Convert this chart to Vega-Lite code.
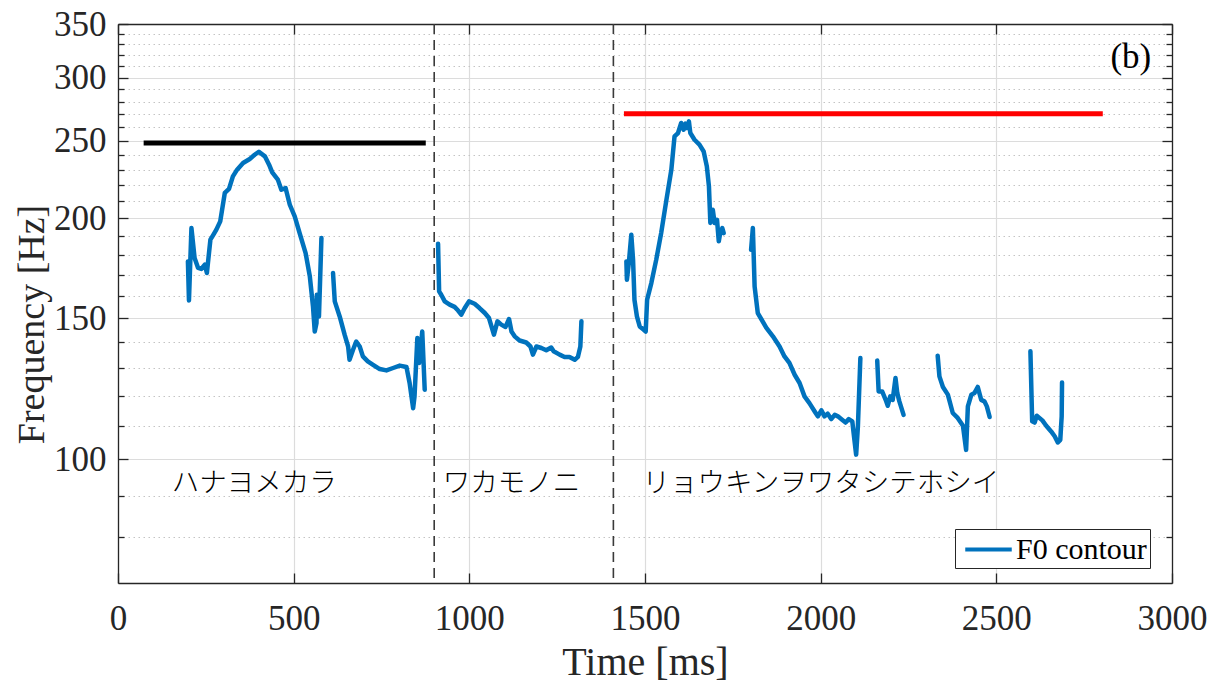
{
  "$schema": "https://vega.github.io/schema/vega-lite/v6.json",
  "width": 1054,
  "height": 559,
  "autosize": {"type": "none"},
  "padding": {"left": 118, "top": 24, "right": 49, "bottom": 103},
  "background": "white",
  "config": {
    "view": {"stroke": null},
    "axis": {
      "labelFont": "Liberation Serif",
      "titleFont": "Liberation Serif",
      "labelColor": "#262626",
      "titleColor": "#262626",
      "domainColor": "#262626",
      "tickColor": "#262626",
      "domainWidth": 1.3,
      "tickWidth": 1.3,
      "labelFontWeight": "normal",
      "titleFontWeight": "normal"
    }
  },
  "datasets": {
    "f0": [
      {"seg": 1, "t": 199, "f": 176.7}, {"seg": 1, "t": 202, "f": 157.9}, {"seg": 1, "t": 209, "f": 194.5}, {"seg": 1, "t": 218, "f": 178.4},
      {"seg": 1, "t": 228, "f": 173.4}, {"seg": 1, "t": 237, "f": 172.9}, {"seg": 1, "t": 247, "f": 175.0}, {"seg": 1, "t": 253, "f": 170.9},
      {"seg": 1, "t": 263, "f": 188.1}, {"seg": 1, "t": 270, "f": 190.3}, {"seg": 1, "t": 280, "f": 193.6}, {"seg": 1, "t": 291, "f": 198.3},
      {"seg": 1, "t": 304, "f": 215.2}, {"seg": 1, "t": 316, "f": 217.7}, {"seg": 1, "t": 327, "f": 225.7}, {"seg": 1, "t": 339, "f": 230.1},
      {"seg": 1, "t": 356, "f": 234.6}, {"seg": 1, "t": 375, "f": 237.3}, {"seg": 1, "t": 389, "f": 240.2}, {"seg": 1, "t": 401, "f": 242.3},
      {"seg": 1, "t": 418, "f": 239.1}, {"seg": 1, "t": 430, "f": 233.4}, {"seg": 1, "t": 439, "f": 228.3}, {"seg": 1, "t": 455, "f": 223.6},
      {"seg": 1, "t": 465, "f": 217.2}, {"seg": 1, "t": 477, "f": 218.3}, {"seg": 1, "t": 489, "f": 208.0}, {"seg": 1, "t": 503, "f": 201.1},
      {"seg": 1, "t": 517, "f": 191.7}, {"seg": 1, "t": 534, "f": 181.0}, {"seg": 1, "t": 546, "f": 169.2}, {"seg": 1, "t": 555, "f": 155.2},
      {"seg": 1, "t": 560, "f": 144.4}, {"seg": 1, "t": 565, "f": 148.0}, {"seg": 1, "t": 566, "f": 160.5}, {"seg": 1, "t": 572, "f": 150.8},
      {"seg": 1, "t": 579, "f": 189.0},
      {"seg": 2, "t": 612, "f": 170.9}, {"seg": 2, "t": 617, "f": 157.5}, {"seg": 2, "t": 631, "f": 150.8}, {"seg": 2, "t": 645, "f": 143.1},
      {"seg": 2, "t": 655, "f": 138.3}, {"seg": 2, "t": 659, "f": 133.1}, {"seg": 2, "t": 669, "f": 137.0}, {"seg": 2, "t": 678, "f": 140.3},
      {"seg": 2, "t": 688, "f": 138.3}, {"seg": 2, "t": 697, "f": 134.4}, {"seg": 2, "t": 711, "f": 132.5}, {"seg": 2, "t": 726, "f": 131.2},
      {"seg": 2, "t": 745, "f": 129.6}, {"seg": 2, "t": 764, "f": 129.1}, {"seg": 2, "t": 783, "f": 130.0}, {"seg": 2, "t": 802, "f": 130.9},
      {"seg": 2, "t": 821, "f": 130.4}, {"seg": 2, "t": 830, "f": 124.5}, {"seg": 2, "t": 840, "f": 115.8}, {"seg": 2, "t": 844, "f": 119.8},
      {"seg": 2, "t": 852, "f": 141.7}, {"seg": 2, "t": 857, "f": 131.9}, {"seg": 2, "t": 866, "f": 144.4}, {"seg": 2, "t": 873, "f": 122.1},
      {"seg": 3, "t": 911, "f": 185.9}, {"seg": 3, "t": 914, "f": 162.1}, {"seg": 3, "t": 920, "f": 160.5}, {"seg": 3, "t": 930, "f": 157.5},
      {"seg": 3, "t": 944, "f": 156.0}, {"seg": 3, "t": 958, "f": 155.0}, {"seg": 3, "t": 968, "f": 153.4}, {"seg": 3, "t": 977, "f": 151.6},
      {"seg": 3, "t": 987, "f": 154.5}, {"seg": 3, "t": 999, "f": 157.5}, {"seg": 3, "t": 1015, "f": 156.4}, {"seg": 3, "t": 1029, "f": 154.5},
      {"seg": 3, "t": 1044, "f": 152.3}, {"seg": 3, "t": 1056, "f": 150.1}, {"seg": 3, "t": 1063, "f": 146.5}, {"seg": 3, "t": 1070, "f": 143.1},
      {"seg": 3, "t": 1080, "f": 148.7}, {"seg": 3, "t": 1091, "f": 147.3}, {"seg": 3, "t": 1103, "f": 146.3}, {"seg": 3, "t": 1113, "f": 149.7},
      {"seg": 3, "t": 1120, "f": 144.4}, {"seg": 3, "t": 1129, "f": 142.4}, {"seg": 3, "t": 1143, "f": 140.7}, {"seg": 3, "t": 1162, "f": 139.9},
      {"seg": 3, "t": 1174, "f": 138.3}, {"seg": 3, "t": 1181, "f": 135.1}, {"seg": 3, "t": 1191, "f": 138.3}, {"seg": 3, "t": 1205, "f": 137.7},
      {"seg": 3, "t": 1219, "f": 136.8}, {"seg": 3, "t": 1233, "f": 137.9}, {"seg": 3, "t": 1240, "f": 136.4}, {"seg": 3, "t": 1257, "f": 135.1},
      {"seg": 3, "t": 1271, "f": 134.2}, {"seg": 3, "t": 1285, "f": 134.2}, {"seg": 3, "t": 1300, "f": 133.1}, {"seg": 3, "t": 1309, "f": 134.2},
      {"seg": 3, "t": 1316, "f": 138.3}, {"seg": 3, "t": 1319, "f": 148.7},
      {"seg": 4, "t": 1447, "f": 176.7}, {"seg": 4, "t": 1448.5, "f": 167.6}, {"seg": 4, "t": 1454, "f": 175.9}, {"seg": 4, "t": 1461, "f": 190.8},
      {"seg": 4, "t": 1466, "f": 177.6}, {"seg": 4, "t": 1470, "f": 158.2}, {"seg": 4, "t": 1477, "f": 150.8}, {"seg": 4, "t": 1485, "f": 146.5},
      {"seg": 4, "t": 1494, "f": 145.4}, {"seg": 4, "t": 1502, "f": 144.4}, {"seg": 4, "t": 1506, "f": 158.2}, {"seg": 4, "t": 1518, "f": 166.0},
      {"seg": 4, "t": 1532, "f": 177.6}, {"seg": 4, "t": 1546, "f": 191.7}, {"seg": 4, "t": 1561, "f": 211.0}, {"seg": 4, "t": 1575, "f": 230.1},
      {"seg": 4, "t": 1584, "f": 253.2}, {"seg": 4, "t": 1594, "f": 255.7}, {"seg": 4, "t": 1603, "f": 263.2}, {"seg": 4, "t": 1610, "f": 258.2},
      {"seg": 4, "t": 1615, "f": 262.7}, {"seg": 4, "t": 1619, "f": 259.4}, {"seg": 4, "t": 1625, "f": 264.4}, {"seg": 4, "t": 1629, "f": 255.7},
      {"seg": 4, "t": 1641, "f": 250.8}, {"seg": 4, "t": 1655, "f": 247.3}, {"seg": 4, "t": 1667, "f": 242.5}, {"seg": 4, "t": 1676, "f": 232.3},
      {"seg": 4, "t": 1682, "f": 219.3}, {"seg": 4, "t": 1686, "f": 197.4}, {"seg": 4, "t": 1693, "f": 205.0}, {"seg": 4, "t": 1698, "f": 197.4},
      {"seg": 4, "t": 1705, "f": 199.2}, {"seg": 4, "t": 1710, "f": 187.2}, {"seg": 4, "t": 1714, "f": 191.7}, {"seg": 4, "t": 1720, "f": 194.5},
      {"seg": 4, "t": 1724, "f": 191.7},
      {"seg": 5, "t": 1802, "f": 182.7}, {"seg": 5, "t": 1807, "f": 194.5}, {"seg": 5, "t": 1812, "f": 164.4}, {"seg": 5, "t": 1821, "f": 152.3},
      {"seg": 5, "t": 1845, "f": 146.0}, {"seg": 5, "t": 1864, "f": 142.4}, {"seg": 5, "t": 1883, "f": 138.3}, {"seg": 5, "t": 1897, "f": 134.4},
      {"seg": 5, "t": 1911, "f": 131.9}, {"seg": 5, "t": 1926, "f": 127.5}, {"seg": 5, "t": 1940, "f": 124.5}, {"seg": 5, "t": 1954, "f": 119.8},
      {"seg": 5, "t": 1968, "f": 117.5}, {"seg": 5, "t": 1983, "f": 114.7}, {"seg": 5, "t": 1992, "f": 113.1}, {"seg": 5, "t": 2002, "f": 115.1},
      {"seg": 5, "t": 2011, "f": 113.1}, {"seg": 5, "t": 2020, "f": 114.0}, {"seg": 5, "t": 2030, "f": 112.2}, {"seg": 5, "t": 2040, "f": 113.6},
      {"seg": 5, "t": 2049, "f": 113.1}, {"seg": 5, "t": 2061, "f": 112.0}, {"seg": 5, "t": 2071, "f": 111.1}, {"seg": 5, "t": 2080, "f": 112.2},
      {"seg": 5, "t": 2090, "f": 111.5}, {"seg": 5, "t": 2096, "f": 105.7}, {"seg": 5, "t": 2101, "f": 101.3}, {"seg": 5, "t": 2106, "f": 109.9},
      {"seg": 5, "t": 2113, "f": 133.8},
      {"seg": 6, "t": 2161, "f": 132.8}, {"seg": 6, "t": 2165, "f": 121.5}, {"seg": 6, "t": 2175, "f": 121.5}, {"seg": 6, "t": 2185, "f": 118.6},
      {"seg": 6, "t": 2191, "f": 116.6}, {"seg": 6, "t": 2198, "f": 119.8}, {"seg": 6, "t": 2205, "f": 118.6}, {"seg": 6, "t": 2213, "f": 126.3},
      {"seg": 6, "t": 2218, "f": 121.0}, {"seg": 6, "t": 2224, "f": 118.1}, {"seg": 6, "t": 2236, "f": 113.6},
      {"seg": 7, "t": 2333, "f": 134.7}, {"seg": 7, "t": 2338, "f": 126.9}, {"seg": 7, "t": 2348, "f": 123.1}, {"seg": 7, "t": 2362, "f": 120.4},
      {"seg": 7, "t": 2376, "f": 114.2}, {"seg": 7, "t": 2390, "f": 112.6}, {"seg": 7, "t": 2405, "f": 110.1}, {"seg": 7, "t": 2414, "f": 102.7},
      {"seg": 7, "t": 2419, "f": 116.4}, {"seg": 7, "t": 2429, "f": 120.4}, {"seg": 7, "t": 2438, "f": 121.0}, {"seg": 7, "t": 2447, "f": 123.1},
      {"seg": 7, "t": 2457, "f": 118.6}, {"seg": 7, "t": 2466, "f": 118.1}, {"seg": 7, "t": 2473, "f": 116.4}, {"seg": 7, "t": 2481, "f": 112.9},
      {"seg": 8, "t": 2597, "f": 136.4}, {"seg": 8, "t": 2602, "f": 111.5}, {"seg": 8, "t": 2609, "f": 111.1}, {"seg": 8, "t": 2615, "f": 113.3},
      {"seg": 8, "t": 2631, "f": 111.8}, {"seg": 8, "t": 2642, "f": 110.1}, {"seg": 8, "t": 2656, "f": 108.3}, {"seg": 8, "t": 2666, "f": 106.8},
      {"seg": 8, "t": 2675, "f": 104.9}, {"seg": 8, "t": 2682, "f": 105.7}, {"seg": 8, "t": 2686, "f": 113.1}, {"seg": 8, "t": 2687, "f": 124.7}
    ],
    "black": [{"start": 73, "end": 876, "f": 248.4}],
    "red": [{"start": 1440, "end": 2803, "f": 270.3}],
    "bounds": [{"t": 900}, {"t": 1410}],
    "phrases": [
      {"t": 153, "f": 93.2, "text": "ハナヨメカラ"},
      {"t": 924, "f": 93.2, "text": "ワカモノニ"},
      {"t": 1493, "f": 93.2, "text": "リョウキンヲワタシテホシイ"}
    ],
    "panel": [{"t": 2941, "f": 318, "text": "(b)"}]
  },
  "layer": [
    {
      "data": {"name": "f0"},
      "mark": {"type": "line", "strokeWidth": 4.5, "strokeCap": "round", "strokeJoin": "round"},
      "encoding": {
        "x": {
          "field": "t", "type": "quantitative",
          "scale": {"domain": [0, 3000], "nice": false, "zero": false},
          "axis": {
            "orient": "bottom", "values": [0, 500, 1000, 1500, 2000, 2500, 3000],
            "title": "Time [ms]", "titleFontSize": 40, "titleBaseline": "alphabetic", "titleY": 91,
            "labelFontSize": 35, "tickSize": -10, "labelPadding": 28, "format": "d",
            "grid": true, "gridColor": "#dcdcdc", "gridWidth": 1.2, "labelFlush": false, "labelOverlap": false
          }
        },
        "y": {
          "field": "f", "type": "quantitative",
          "scale": {"type": "log", "domain": [70, 350], "nice": false, "zero": false},
          "axis": {
            "orient": "left", "values": [100, 150, 200, 250, 300, 350],
            "title": "Frequency [Hz]", "titleFontSize": 38, "titleBaseline": "middle", "titleX": -86, "titleY": 300, "titleAngle": -90,
            "labelFontSize": 35, "tickSize": -10, "labelPadding": 22, "format": "d",
            "grid": true, "gridColor": "#dcdcdc", "gridWidth": 1.2, "labelFlush": false, "labelOverlap": false
          }
        },
        "detail": {"field": "seg", "type": "nominal"},
        "color": {
          "datum": "F0 contour", "type": "nominal",
          "scale": {"domain": ["F0 contour"], "range": ["#0072BD"]},
          "legend": {
            "orient": "none", "legendX": 837, "legendY": 505, "title": null,
            "symbolType": "M-1.5,0H1.5", "symbolSize": 961, "symbolStrokeWidth": 4, "symbolOffset": 13,
            "labelFont": "Liberation Serif", "labelFontSize": 30, "labelColor": "#000000", "labelOffset": 10,
            "strokeColor": "#262626", "fillColor": "white", "padding": 3
          }
        }
      }
    },
    {
      "data": {"name": "black"},
      "mark": {"type": "rule", "color": "#000000", "strokeWidth": 5},
      "encoding": {
        "x": {"field": "start", "type": "quantitative", "scale": {"domain": [0, 3000], "nice": false, "zero": false},
          "axis": {"orient": "top", "values": [0, 500, 1000, 1500, 2000, 2500, 3000], "labels": false, "title": null, "grid": false, "tickSize": -10}},
        "x2": {"field": "end"},
        "y": {"field": "f", "type": "quantitative", "scale": {"type": "log", "domain": [70, 350], "nice": false, "zero": false},
          "axis": {"orient": "left", "values": [80, 90, 110, 120, 130, 140, 160, 170, 180, 190, 210, 220, 230, 240, 260, 270, 280, 290, 310, 320, 330, 340],
            "labels": false, "title": null, "domain": false, "tickSize": -6, "grid": true, "gridColor": "#c4c4c4", "gridDash": [1.5, 3.5], "gridWidth": 1}}
      }
    },
    {
      "data": {"name": "red"},
      "mark": {"type": "rule", "color": "#ff0000", "strokeWidth": 5},
      "encoding": {
        "x": {"field": "start", "type": "quantitative", "scale": {"domain": [0, 3000], "nice": false, "zero": false}, "axis": null},
        "x2": {"field": "end"},
        "y": {"field": "f", "type": "quantitative", "scale": {"type": "log", "domain": [70, 350], "nice": false, "zero": false},
          "axis": {"orient": "right", "values": [100, 150, 200, 250, 300, 350], "labels": false, "title": null, "grid": false, "tickSize": -10}}
      }
    },
    {
      "data": {"name": "bounds"},
      "mark": {"type": "rule", "color": "#3a3a3a", "strokeWidth": 1.6, "strokeDash": [10, 6]},
      "encoding": {
        "x": {"field": "t", "type": "quantitative", "scale": {"domain": [0, 3000], "nice": false, "zero": false}, "axis": null}
      }
    },
    {
      "data": {"name": "phrases"},
      "mark": {"type": "text", "align": "left", "baseline": "middle", "font": "Noto Sans CJK JP", "fontSize": 27.5, "fontWeight": 300, "color": "#000000"},
      "encoding": {
        "x": {"field": "t", "type": "quantitative", "scale": {"domain": [0, 3000], "nice": false, "zero": false}, "axis": null},
        "y": {"field": "f", "type": "quantitative", "scale": {"type": "log", "domain": [70, 350], "nice": false, "zero": false},
          "axis": {"orient": "right", "values": [80, 90, 110, 120, 130, 140, 160, 170, 180, 190, 210, 220, 230, 240, 260, 270, 280, 290, 310, 320, 330, 340],
            "labels": false, "title": null, "domain": false, "grid": false, "tickSize": -6}},
        "text": {"field": "text"}
      }
    },
    {
      "data": {"name": "panel"},
      "mark": {"type": "text", "align": "right", "baseline": "middle", "font": "Liberation Serif", "fontSize": 35, "color": "#000000"},
      "encoding": {
        "x": {"field": "t", "type": "quantitative", "scale": {"domain": [0, 3000], "nice": false, "zero": false}, "axis": null},
        "y": {"field": "f", "type": "quantitative", "scale": {"type": "log", "domain": [70, 350], "nice": false, "zero": false}, "axis": null},
        "text": {"field": "text"}
      }
    }
  ],
  "resolve": {"axis": {"x": "independent", "y": "independent"}}
}
